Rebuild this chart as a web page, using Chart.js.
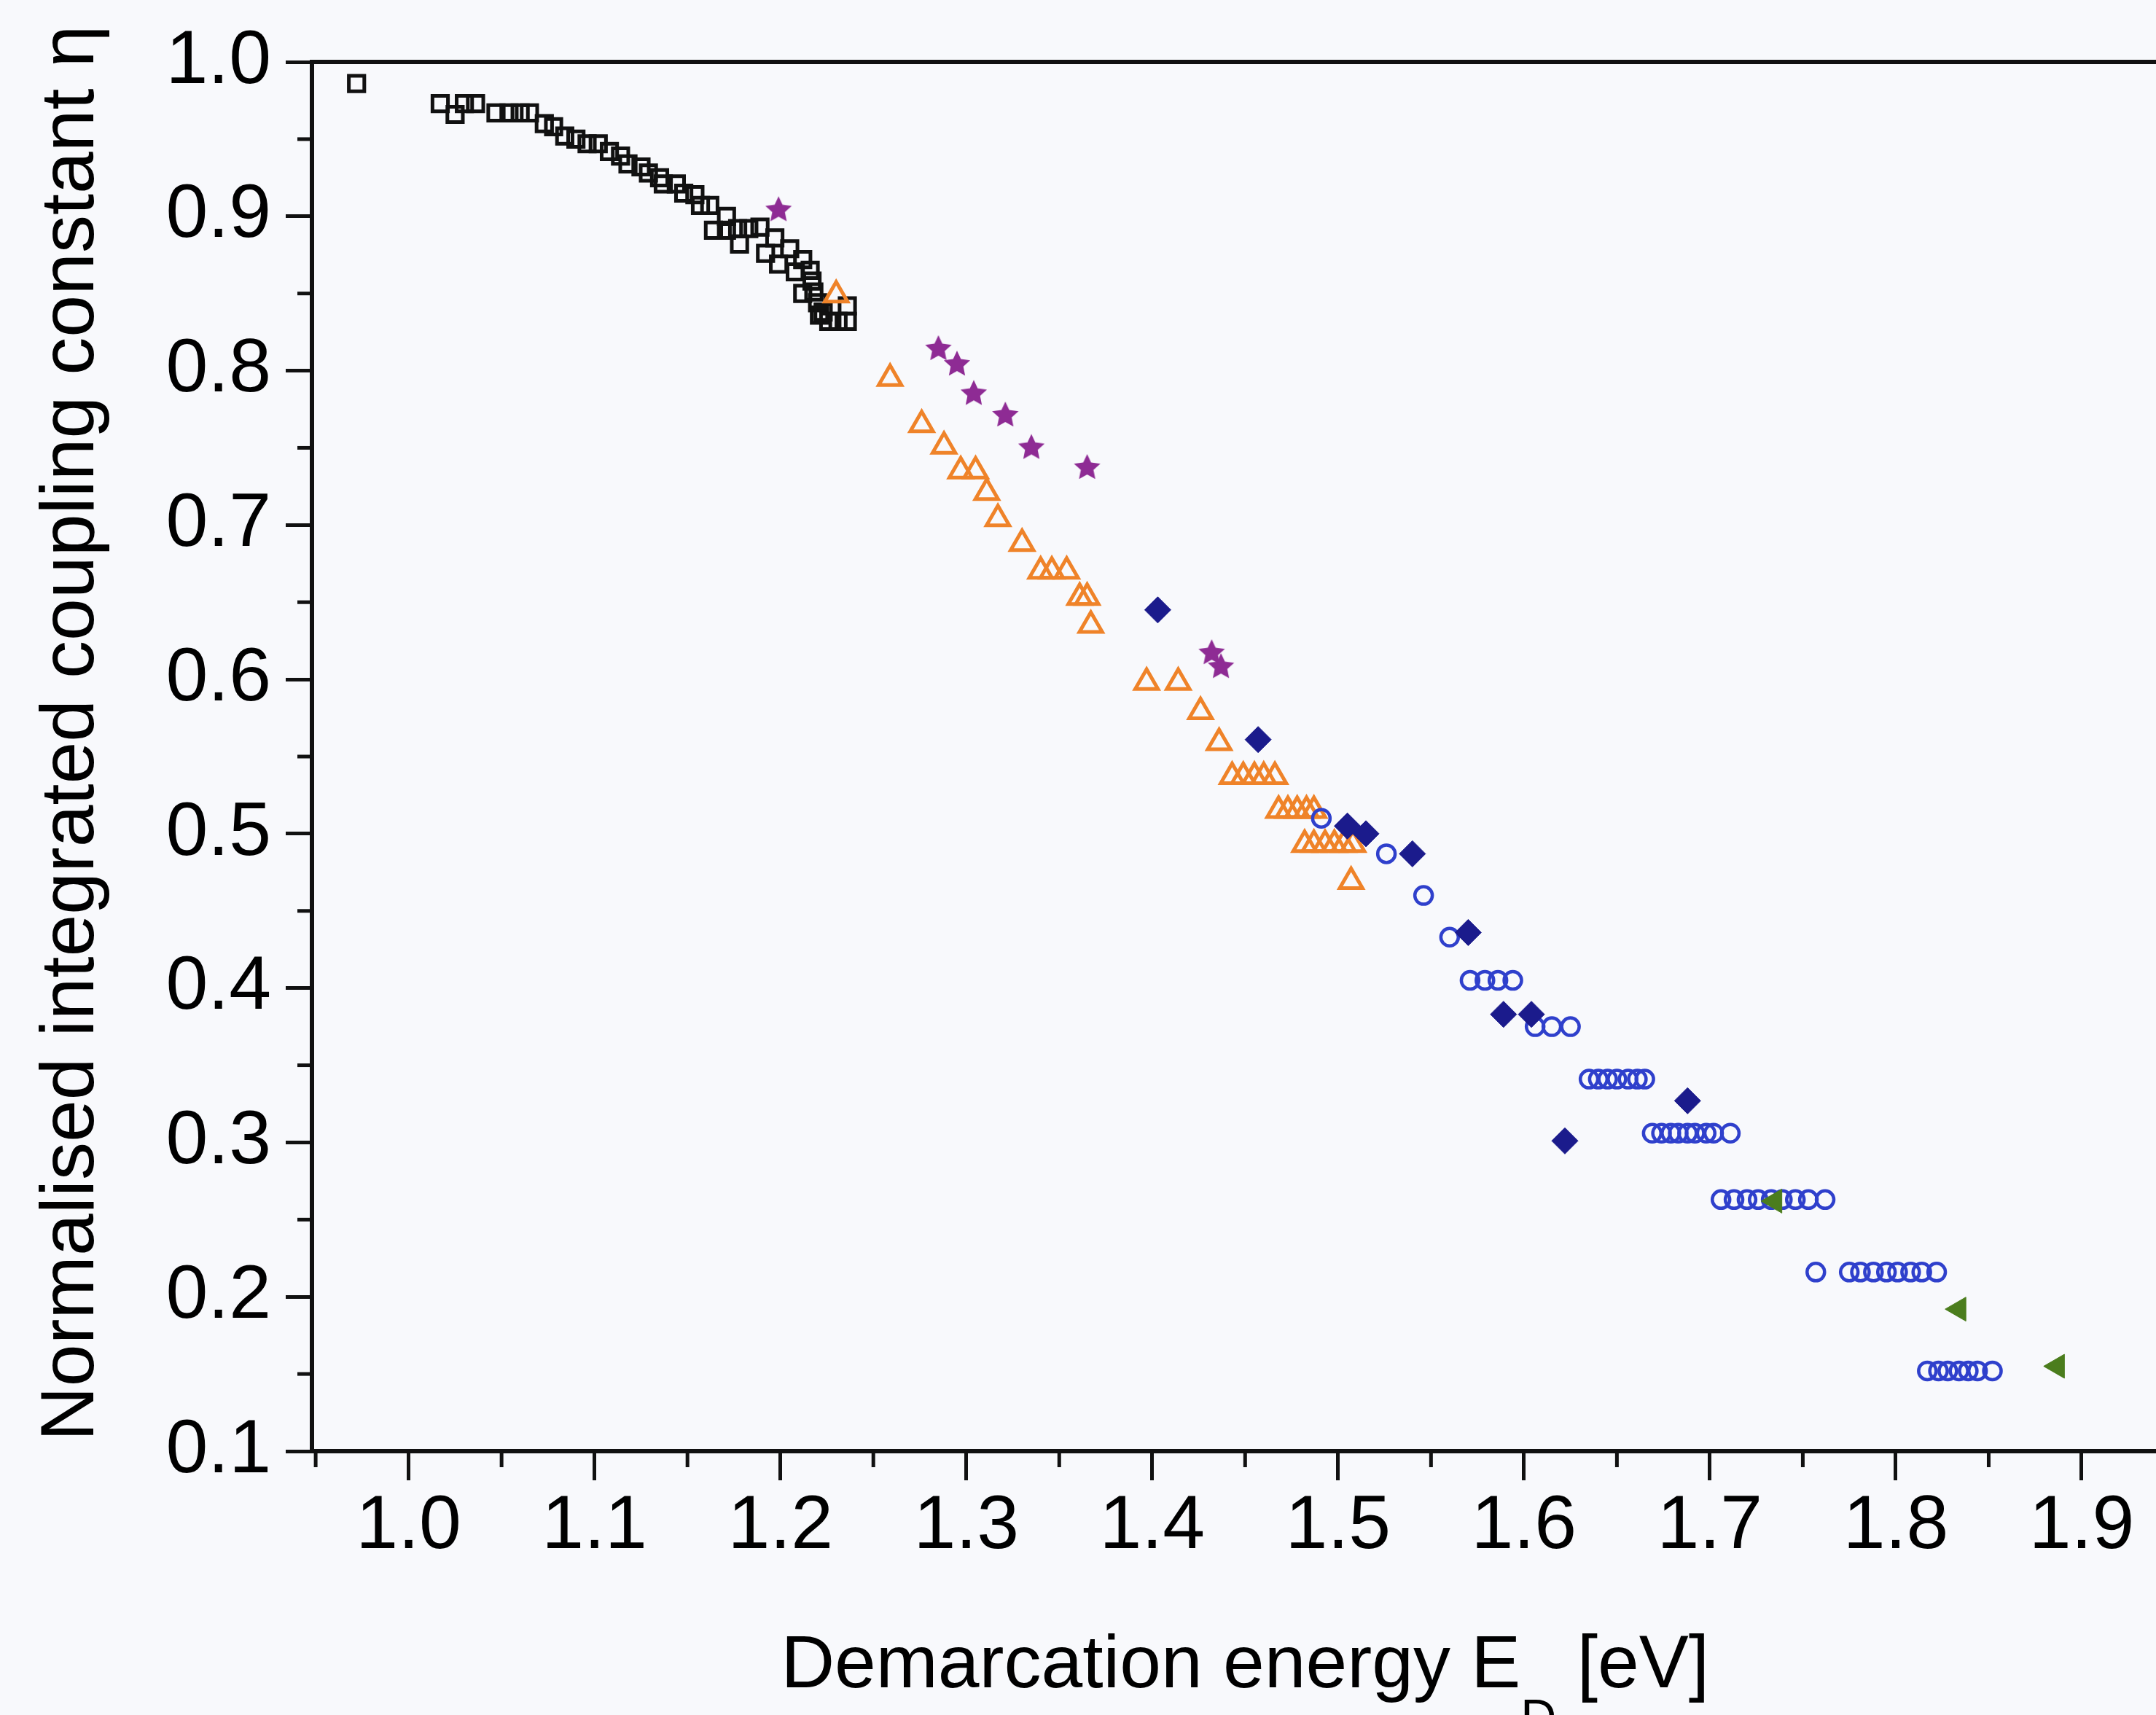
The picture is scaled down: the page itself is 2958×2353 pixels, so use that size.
<!DOCTYPE html>
<html>
<head>
<meta charset="utf-8">
<script src="https://cdn.jsdelivr.net/npm/chart.js@4.4.1/dist/chart.umd.min.js"></script>
<style>
  html, body { margin: 0; padding: 0; background: #f8f9fc; overflow: hidden; }
  canvas { display: block; }
</style>
</head>
<body>
<canvas id="chart" width="2958" height="2353"></canvas>
<script>
// ---------- tick labels ----------
const xTickValues = [1.0, 1.1, 1.2, 1.3, 1.4, 1.5, 1.6, 1.7, 1.8, 1.9];
const xTickLabels = ['1.0', '1.1', '1.2', '1.3', '1.4', '1.5', '1.6', '1.7', '1.8', '1.9'];
const yTickValues = [0.1, 0.2, 0.3, 0.4, 0.5, 0.6, 0.7, 0.8, 0.9, 1.0];
const yTickLabels = ['0.1', '0.2', '0.3', '0.4', '0.5', '0.6', '0.7', '0.8', '0.9', '1.0'];

// ---------- axis titles ----------
const yTitle = 'Normalised integrated coupling constant η';
const xTitleMain = 'Demarcation energy E';
const xTitleSub = 'D';
const xTitleUnit = ' [eV]';

// ---------- series: open black squares ----------
const squareE = [0.972, 1.017, 1.025, 1.030, 1.036, 1.047, 1.054, 1.060, 1.065, 1.073, 1.078, 1.084, 1.090, 1.096, 1.102, 1.108, 1.114, 1.118, 1.125, 1.129, 1.135, 1.137, 1.144, 1.148, 1.154, 1.157, 1.162, 1.164, 1.171, 1.171, 1.177, 1.178, 1.183, 1.189, 1.192, 1.197, 1.199, 1.205, 1.208, 1.212, 1.212, 1.216, 1.217, 1.218, 1.220, 1.221, 1.223, 1.226, 1.231, 1.236, 1.236];
const squareEta = [0.986, 0.973, 0.966, 0.973, 0.973, 0.967, 0.967, 0.967, 0.967, 0.960, 0.958, 0.952, 0.950, 0.947, 0.947, 0.942, 0.939, 0.934, 0.932, 0.928, 0.925, 0.921, 0.921, 0.915, 0.914, 0.907, 0.907, 0.891, 0.891, 0.900, 0.892, 0.882, 0.892, 0.893, 0.876, 0.886, 0.869, 0.879, 0.864, 0.872, 0.850, 0.865, 0.858, 0.851, 0.844, 0.836, 0.838, 0.832, 0.832, 0.832, 0.842];

// ---------- series: open orange triangles ----------
const triangleE = [1.230, 1.259, 1.276, 1.288, 1.297, 1.305, 1.311, 1.317, 1.330, 1.340, 1.346, 1.354, 1.361, 1.365, 1.367, 1.397, 1.414, 1.426, 1.436, 1.443, 1.449, 1.455, 1.460, 1.466, 1.468, 1.473, 1.478, 1.483, 1.487, 1.482, 1.487, 1.493, 1.498, 1.503, 1.508, 1.507];
const triangleEta = [0.849, 0.795, 0.765, 0.751, 0.735, 0.735, 0.721, 0.704, 0.688, 0.670, 0.670, 0.670, 0.653, 0.653, 0.635, 0.598, 0.598, 0.579, 0.559, 0.537, 0.537, 0.537, 0.537, 0.537, 0.515, 0.515, 0.515, 0.515, 0.515, 0.493, 0.493, 0.493, 0.493, 0.493, 0.493, 0.469];

// ---------- series: filled purple stars ----------
const starE = [1.199, 1.285, 1.295, 1.304, 1.321, 1.335, 1.365, 1.432, 1.437];
const starEta = [0.904, 0.814, 0.804, 0.785, 0.771, 0.750, 0.737, 0.617, 0.608];

// ---------- series: filled navy diamonds ----------
const diamondE = [1.403, 1.457, 1.505, 1.515, 1.540, 1.570, 1.589, 1.604, 1.622, 1.688];
const diamondEta = [0.645, 0.561, 0.505, 0.500, 0.487, 0.436, 0.383, 0.383, 0.301, 0.327];

// ---------- series: open blue circles ----------
const circleE = [1.491, 1.526, 1.546, 1.560,
  1.571, 1.579, 1.586, 1.594,
  1.606, 1.615, 1.625,
  1.635, 1.640, 1.645, 1.650, 1.656, 1.661, 1.665,
  1.669, 1.674, 1.679, 1.683, 1.688, 1.692, 1.698, 1.702, 1.711,
  1.706, 1.713, 1.720, 1.726, 1.733, 1.739, 1.746, 1.753, 1.762,
  1.757, 1.775, 1.781, 1.788, 1.795, 1.801, 1.808, 1.814, 1.822,
  1.817, 1.823, 1.828, 1.834, 1.839, 1.844, 1.852];
const circleEta = [0.510, 0.487, 0.460, 0.433,
  0.405, 0.405, 0.405, 0.405,
  0.375, 0.375, 0.375,
  0.341, 0.341, 0.341, 0.341, 0.341, 0.341, 0.341,
  0.306, 0.306, 0.306, 0.306, 0.306, 0.306, 0.306, 0.306, 0.306,
  0.263, 0.263, 0.263, 0.263, 0.263, 0.263, 0.263, 0.263, 0.263,
  0.216, 0.216, 0.216, 0.216, 0.216, 0.216, 0.216, 0.216, 0.216,
  0.152, 0.152, 0.152, 0.152, 0.152, 0.152, 0.152];

// ---------- series: filled green left triangles ----------
const leftTriE = [1.735, 1.834, 1.887];
const leftTriEta = [0.262, 0.192, 0.155];

// ---------- styling ----------
const FONT = "'Liberation Sans', Arial, Helvetica, sans-serif";
const INK = '#111111';
const LABEL_SIZE = 104;
const TITLE_SIZE = 102;

function pts(xs, ys) { return xs.map((x, i) => ({ x: x, y: ys[i] })); }

function starImage(color, R) {
  const s = Math.ceil(R * 2 + 4);
  const c = document.createElement('canvas');
  c.width = s; c.height = s;
  const g = c.getContext('2d');
  g.beginPath();
  for (let k = 0; k < 10; k++) {
    const r = (k % 2) ? R * 0.48 : R;
    const a = -Math.PI / 2 + k * Math.PI / 5;
    g.lineTo(s / 2 + r * Math.cos(a), s / 2 + r * Math.sin(a));
  }
  g.closePath();
  g.fillStyle = color;
  g.fill();
  return c;
}

const extras = {
  id: 'minorTicksAndTitles',
  afterDraw(chart) {
    const { ctx } = chart;
    const xs = chart.scales.x, ys = chart.scales.y;
    ctx.save();
    ctx.strokeStyle = INK;
    ctx.lineWidth = 5;
    // minor ticks, halfway between the labelled ticks
    const xMinor = [xTickValues[0] - 0.05].concat(xTickValues.map(v => v + 0.05));
    xMinor.forEach(v => {
      if (v < xs.min || v > xs.max) return;
      const px = xs.getPixelForValue(v);
      ctx.beginPath(); ctx.moveTo(px, xs.top); ctx.lineTo(px, xs.top + 22); ctx.stroke();
    });
    const yMinor = yTickValues.slice(0, -1).map(v => v + 0.05);
    yMinor.forEach(v => {
      const py = ys.getPixelForValue(v);
      ctx.beginPath(); ctx.moveTo(ys.right, py); ctx.lineTo(ys.right - 20, py); ctx.stroke();
    });

    ctx.fillStyle = '#000';
    ctx.textBaseline = 'alphabetic';

    // x-axis title with subscript
    const big = TITLE_SIZE + 'px ' + FONT, small = '68px ' + FONT;
    ctx.font = big;
    const w1 = ctx.measureText(xTitleMain).width, w3 = ctx.measureText(xTitleUnit).width;
    ctx.font = small;
    const w2 = ctx.measureText(xTitleSub).width;
    const total = w1 + w2 + w3;
    const cx = xs.getPixelForValue(1.45);
    let sx = cx - total / 2;
    const base = 2315;
    ctx.textAlign = 'left';
    ctx.font = big; ctx.fillText(xTitleMain, sx, base); sx += w1;
    ctx.font = small; ctx.fillText(xTitleSub, sx, base + 64); sx += w2;
    ctx.font = big; ctx.fillText(xTitleUnit, sx, base);

    // y-axis title, rotated
    ctx.translate(128, 1006);
    ctx.rotate(-Math.PI / 2);
    ctx.textAlign = 'center';
    ctx.font = LABEL_SIZE + 'px ' + FONT;
    ctx.fillText(yTitle, 0, 0);
    ctx.restore();
  }
};

const X_MIN = 0.948, X_MAX = 1.94;

new Chart(document.getElementById('chart'), {
  type: 'scatter',
  data: {
    datasets: [
      {
        label: 'green', data: pts(leftTriE, leftTriEta),
        pointStyle: 'triangle', rotation: -90, pointRadius: 19, pointHoverRadius: 19,
        backgroundColor: '#4b7d1d', borderColor: '#4b7d1d', borderWidth: 1
      },
      {
        label: 'stars', data: pts(starE, starEta),
        pointStyle: starImage('#8e2b94', 19), pointRadius: 19, pointHoverRadius: 19,
        backgroundColor: '#8e2b94', borderColor: '#8e2b94', borderWidth: 0
      },
      {
        label: 'diamonds', data: pts(diamondE, diamondEta),
        pointStyle: 'rectRot', pointRadius: 18, pointHoverRadius: 18,
        backgroundColor: '#1b1b8c', borderColor: '#1b1b8c', borderWidth: 1
      },
      {
        label: 'circles', data: pts(circleE, circleEta),
        pointStyle: 'circle', pointRadius: 12, pointHoverRadius: 12,
        backgroundColor: 'rgba(0,0,0,0)', borderColor: '#2f40cc', borderWidth: 4.5
      },
      {
        label: 'triangles', data: pts(triangleE, triangleEta),
        pointStyle: 'triangle', pointRadius: 18, pointHoverRadius: 18,
        backgroundColor: 'rgba(0,0,0,0)', borderColor: '#ef8329', borderWidth: 5
      },
      {
        label: 'squares', data: pts(squareE, squareEta),
        pointStyle: 'rect', pointRadius: 15, pointHoverRadius: 15,
        backgroundColor: 'rgba(0,0,0,0)', borderColor: INK, borderWidth: 5
      }
    ]
  },
  options: {
    responsive: false,
    devicePixelRatio: 1,
    animation: false,
    events: [],
    layout: { padding: 0, autoPadding: false },
    plugins: { legend: { display: false }, tooltip: { enabled: false } },
    scales: {
      x: {
        type: 'linear', position: 'bottom', min: X_MIN, max: X_MAX,
        afterBuildTicks: s => { s.ticks = xTickValues.map(v => ({ value: v })); },
        afterFit: s => { s.height = 362; s.paddingLeft = 0; s.paddingRight = 0; },
        ticks: {
          callback: (v, i) => xTickLabels[i],
          font: { family: FONT, size: LABEL_SIZE }, color: '#000', padding: 2,
          maxRotation: 0, minRotation: 0, autoSkip: false
        },
        grid: { display: true, drawOnChartArea: false, drawTicks: true, tickLength: 40, tickWidth: 5, tickColor: INK },
        border: { display: true, color: INK, width: 6 },
        title: { display: false }
      },
      x2: {
        type: 'linear', position: 'top', min: X_MIN, max: X_MAX,
        afterFit: s => { s.height = 85; s.paddingLeft = 0; s.paddingRight = 0; },
        ticks: { display: false },
        grid: { display: false, drawTicks: false },
        border: { display: true, color: INK, width: 6 }
      },
      y: {
        type: 'linear', position: 'left', min: 0.1, max: 1.0,
        afterBuildTicks: s => { s.ticks = yTickValues.map(v => ({ value: v })); },
        afterFit: s => { s.width = 428; s.paddingTop = 0; s.paddingBottom = 0; },
        ticks: {
          callback: (v, i) => yTickLabels[i],
          font: { family: FONT, size: LABEL_SIZE }, color: '#000', padding: 20, autoSkip: false
        },
        grid: { display: true, drawOnChartArea: false, drawTicks: true, tickLength: 36, tickWidth: 5, tickColor: INK },
        border: { display: true, color: INK, width: 6 },
        title: { display: false }
      }
    }
  },
  plugins: [extras]
});
</script>
</body>
</html>
